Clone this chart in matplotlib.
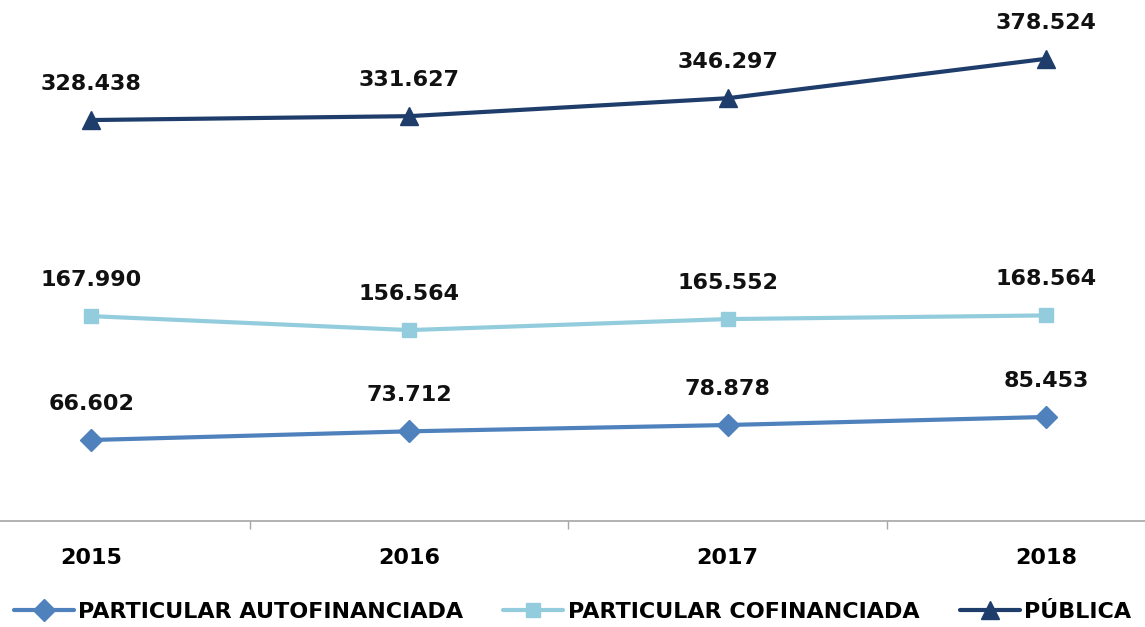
import matplotlib.pyplot as plt
import numpy as np

years = ['2015', '2016', '2017', '2018']
autofinanciada = [66602, 73712, 78878, 85453]
cofinanciada = [167990, 156564, 165552, 168564]
publica = [328438, 331627, 346297, 378524]

series = [
    ('PARTICULAR AUTOFINANCIADA', autofinanciada, '#4F81BD', 'D', 11),
    ('PARTICULAR COFINANCIADA', cofinanciada, '#93CDDD', 's', 10),
    ('PÚBLICA', publica, '#1F3D6B', '^', 13),
]


def fmt(v):
    # spanish thousands separator
    return f'{v:,}'.replace(',', '.')


fig = plt.figure(figsize=(11.45, 6.27), dpi=100)
# category axis is cropped on both sides, like the original
ax = fig.add_axes([-68 / 1145, 105.6 / 627, 1273 / 1145, 488.8 / 627])

x = np.arange(len(years))
handles = []
for name, vals, col, mk, ms in series:
    h, = ax.plot(x, vals, color=col, lw=3, marker=mk, ms=ms, label=name,
                 solid_capstyle='round')
    handles.append(h)
    for xi, v in zip(x, vals):
        ax.annotate(fmt(v), (xi, v), xytext=(0, 26), textcoords='offset points',
                    ha='center', va='center', fontsize=16, fontweight='bold',
                    color='#111111')

ax.set_xlim(-0.5, 3.5)
ax.set_ylim(0, 400000)
for s in ['top', 'left', 'right']:
    ax.spines[s].set_visible(False)
ax.spines['bottom'].set_color('#A6A6A6')
ax.spines['bottom'].set_linewidth(1.2)
ax.set_yticks([])
ax.set_xticks(x)
ax.set_xticklabels(years, fontsize=16, fontweight='bold')
ax.tick_params(axis='x', which='major', length=0, pad=19)
ax.set_xticks([0.5, 1.5, 2.5], minor=True)
ax.tick_params(axis='x', which='minor', length=6, color='#A6A6A6', width=1)
ax.set_facecolor('none')

fig.legend(handles=handles, loc='center', bbox_to_anchor=(0.5, 15 / 627),
           ncol=3, frameon=False, handlelength=2.7,
           handletextpad=0.2, columnspacing=1.8, borderaxespad=0,
           prop={'size': 16, 'weight': 'bold'})

fig.savefig('out.png', dpi=100)
